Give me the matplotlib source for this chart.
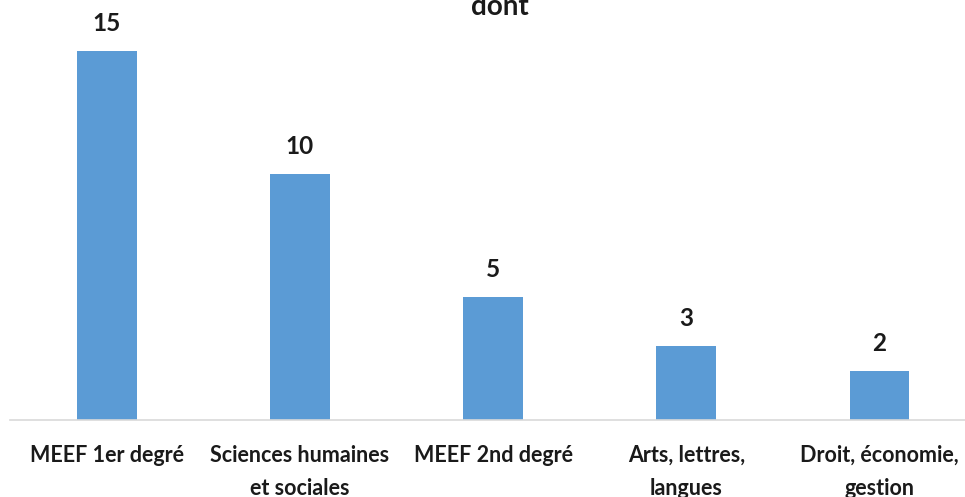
import matplotlib
matplotlib.use("Agg")
import matplotlib.pyplot as plt

categories = ["MEEF 1er degré", "Sciences humaines\net sociales", "MEEF 2nd degré",
              "Arts, lettres,\nlangues", "Droit, économie,\ngestion"]
values = [15, 10, 5, 3, 2]
title = "dont"

W, H = 965, 497
fig = plt.figure(figsize=(W / 100, H / 100), dpi=100)
plt.rcParams['font.family'] = ['Lato', 'DejaVu Sans']

base_px = 420
left_px = 10.1
ax = fig.add_axes([left_px / W, (H - base_px) / H, 966 / W, base_px / H])
x = list(range(len(categories)))
bars = ax.bar(x, values, width=0.31, color="#5B9BD5")
ax.set_xlim(-0.5, len(categories) - 0.5)
ax.set_ylim(0, base_px / 24.6)

for b, v in zip(bars, values):
    ax.annotate(str(v), (b.get_x() + b.get_width() / 2, v), xytext=(0, 16),
                textcoords="offset pixels", ha="center", va="bottom",
                fontsize=17.5, fontweight="bold", color="#1a1a1a")

ax.set_xticks(x)
ax.set_xticklabels(categories, fontsize=15.5, fontweight="bold", color="#1a1a1a",
                   linespacing=1.7)
ax.tick_params(axis="x", length=0, pad=18)
ax.set_yticks([])
for s in ["top", "right", "left"]:
    ax.spines[s].set_visible(False)
ax.spines["bottom"].set_color("#D9D9D9")
ax.spines["bottom"].set_linewidth(1.2)

fig.text(500 / W, 1 - 15 / H, title, ha="center", va="baseline",
         fontsize=20, fontweight="bold", color="#1a1a1a")

fig.savefig("out.png", dpi=100)
